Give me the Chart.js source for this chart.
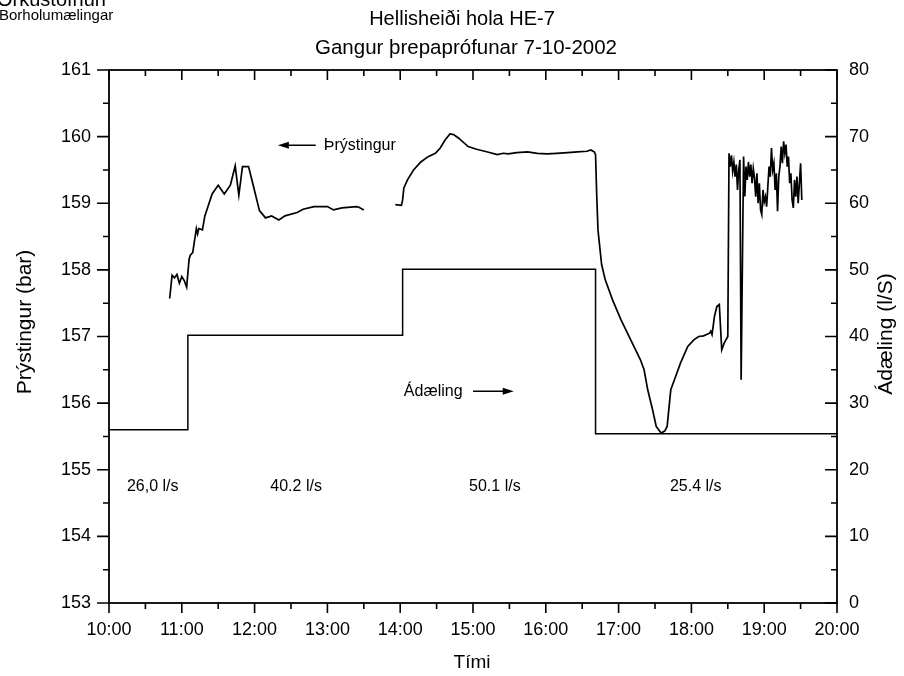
<!DOCTYPE html>
<html>
<head>
<meta charset="utf-8">
<title>Hellisheiði hola HE-7</title>
<script src="https://cdn.jsdelivr.net/npm/chart.js@4.4.1/dist/chart.umd.min.js"></script>
<style>
  html, body { margin: 0; padding: 0; background: #fff; }
  #wrap { width: 904px; height: 676px; }
</style>
</head>
<body>
<div id="wrap"><canvas id="chart" width="904" height="676"></canvas></div>
<script>
// ============================================
// DATA
// ============================================

// Pressure log (bar), clock time. null = logger gap
const pressureTimes = [
  '10:50', '10:52', '10:54', '10:56', '10:58', '11:00', '11:02', '11:04', '11:06', '11:07',
  '11:09', '11:12', '11:13', '11:14', '11:17', '11:19', '11:25', '11:30', '11:35', '11:40',
  '11:44', '11:47', '11:50', '11:55', '11:59', '12:04', '12:09', '12:14', '12:20', '12:25',
  '12:35', '12:40', '12:49', '13:00', '13:05', '13:12', '13:24', '13:26', '13:30',
  '13:45',
  '13:56', '14:01', '14:02', '14:03', '14:06', '14:11', '14:17', '14:23', '14:29', '14:33',
  '14:37', '14:41', '14:44', '14:48', '14:56', '15:03', '15:12', '15:20', '15:25', '15:29',
  '15:36', '15:45', '15:53', '16:01', '16:09', '16:18', '16:26', '16:34', '16:37', '16:40',
  '16:41', '16:42', '16:43', '16:46', '16:49', '16:55', '17:02', '17:10', '17:18', '17:21',
  '17:24', '17:28', '17:31', '17:35', '17:38', '17:40', '17:43', '17:47', '17:51', '17:57',
  '18:02', '18:06', '18:10', '18:15', '18:16', '18:17', '18:19', '18:21', '18:23', '18:25',
  '18:27', '18:30', '18:31', '18:32', '18:33', '18:34', '18:35', '18:36', '18:37', '18:38',
  '18:39', '18:40', '18:41', '18:43', '18:44', '18:45', '18:46', '18:47', '18:48', '18:49',
  '18:50', '18:51', '18:52', '18:53', '18:54', '18:55', '18:56', '18:57', '18:58', '18:59',
  '19:00', '19:01', '19:02', '19:03', '19:04', '19:05', '19:06', '19:07', '19:08', '19:09',
  '19:10', '19:11', '19:12', '19:13', '19:14', '19:15', '19:16', '19:17', '19:18', '19:19',
  '19:20', '19:21', '19:22', '19:23', '19:24', '19:25', '19:26', '19:27', '19:28', '19:29',
  '19:30', '19:31'
];
const pressureValues = [
  157.57, 157.92, 157.88, 157.93, 157.80, 157.90, 157.84, 157.74, 158.16, 158.22,
  158.26, 158.62, 158.54, 158.62, 158.60, 158.81, 159.14, 159.27, 159.14, 159.27,
  159.56, 159.12, 159.55, 159.55, 159.26, 158.89, 158.78, 158.81, 158.75, 158.81,
  158.86, 158.91, 158.95, 158.95, 158.90, 158.93, 158.95, 158.94, 158.90,
  null,
  158.98, 158.97, 159.05, 159.23, 159.35, 159.50, 159.62, 159.70, 159.75, 159.83,
  159.95, 160.04, 160.03, 159.98, 159.85, 159.81, 159.77, 159.73, 159.75, 159.74,
  159.76, 159.77, 159.75, 159.74, 159.75, 159.76, 159.77, 159.78, 159.80, 159.77,
  159.73, 159.10, 158.60, 158.08, 157.85, 157.55, 157.25, 156.95, 156.65, 156.50,
  156.20, 155.90, 155.65, 155.55, 155.58, 155.65, 156.20, 156.40, 156.60, 156.85,
  156.95, 157.00, 157.01, 157.05, 157.08, 157.03, 157.30, 157.45, 157.48, 156.80,
  156.90, 157.00, 159.75, 159.55, 159.72, 159.48, 159.62, 159.40, 159.58, 159.20,
  159.50, 159.65, 156.35, 159.70, 159.10, 159.55, 159.35, 159.62, 159.40, 159.58,
  159.30, 159.52, 159.38, 159.10, 159.45, 159.00, 159.30, 158.90, 158.83, 159.20,
  159.02, 159.10, 158.95, 159.25, 159.55, 159.40, 159.83, 159.50, 159.60, 159.20,
  159.45, 158.88, 159.40, 159.55, 159.85, 159.60, 159.93, 159.75, 159.88, 159.55,
  159.70, 159.30, 159.45, 159.05, 158.93, 159.35, 159.10, 159.40, 159.00, 159.30,
  159.60, 159.05
];

// Injection rate steps (l/s)
const flowTimes = ['10:00', '11:05', '14:02', '16:41', '20:00'];
const flowRates = [26.0, 40.2, 50.1, 25.4, 25.4];
const flowLabels = ['26,0 l/s', '40.2 l/s', '50.1 l/s', '25.4 l/s'];

// Axis ranges
const timeRange = [10, 20];
const pressureRange = [153, 161];
const rateRange = [0, 80];

// ============================================
// HELPERS
// ============================================

function toHours(t) {
  const [h, m] = t.split(':').map(Number);
  return h + m / 60;
}

const pressurePoints = pressureTimes.map((t, i) => ({ x: toHours(t), y: pressureValues[i] }));
const flowPoints = flowTimes.map((t, i) => ({ x: toHours(t), y: flowRates[i] }));

const FONT = '"Liberation Sans", Arial, Helvetica, sans-serif';

// Frame, major/minor tick marks and free text
const decorations = {
  id: 'decorations',
  afterDraw(chart) {
    const { ctx, chartArea: a, scales } = chart;
    const sx = scales.x, sy = scales.y, sr = scales.y1;
    ctx.save();

    // frame
    ctx.strokeStyle = '#000';
    ctx.lineWidth = 1.8;
    ctx.strokeRect(a.left, a.top, a.right - a.left, a.bottom - a.top);

    // ticks
    ctx.lineWidth = 1.6;
    ctx.beginPath();
    for (let h = timeRange[0]; h <= timeRange[1]; h += 0.5) {
      const px = sx.getPixelForValue(h);
      const len = Number.isInteger(h) ? 10 : 6;
      ctx.moveTo(px, a.bottom); ctx.lineTo(px, a.bottom + len);
      ctx.moveTo(px, a.top); ctx.lineTo(px, a.top + len);
    }
    for (let p = pressureRange[0]; p <= pressureRange[1]; p += 0.5) {
      const py = sy.getPixelForValue(p);
      const len = Number.isInteger(p) ? 12 : 6;
      ctx.moveTo(a.left - len, py); ctx.lineTo(a.left, py);
    }
    for (let q = rateRange[0]; q <= rateRange[1]; q += 5) {
      const py = sr.getPixelForValue(q);
      const len = q % 10 === 0 ? 12 : 6;
      ctx.moveTo(a.right - len, py); ctx.lineTo(a.right, py);
    }
    ctx.stroke();

    ctx.fillStyle = '#000';

    // header
    ctx.textAlign = 'left';
    ctx.textBaseline = 'alphabetic';
    ctx.font = '20px ' + FONT;
    ctx.fillText('Orkustofnun', -3, 6);
    ctx.font = '15px ' + FONT;
    ctx.fillText('Borholumælingar', -1, 20);

    ctx.textAlign = 'center';
    ctx.font = '20px ' + FONT;
    ctx.fillText('Hellisheiði hola HE-7', 462, 25);
    ctx.font = '20.5px ' + FONT;
    ctx.fillText('Gangur þrepaprófunar 7-10-2002', 466, 54);

    // axis titles
    ctx.font = '19px ' + FONT;
    ctx.textBaseline = 'middle';
    ctx.fillText('Tími', 472, 663);
    ctx.font = '21px ' + FONT;
    ctx.save();
    ctx.translate(25, 322);
    ctx.rotate(-Math.PI / 2);
    ctx.fillText('Prýstingur (bar)', 0, 0);
    ctx.restore();
    ctx.save();
    ctx.translate(886, 334);
    ctx.rotate(-Math.PI / 2);
    ctx.fillText('Ádæling (l/S)', 0, 0);
    ctx.restore();

    // in-plot labels
    ctx.font = '16px ' + FONT;
    ctx.textAlign = 'left';
    const pY = sy.getPixelForValue(159.87);
    arrow(ctx, sx.getPixelForValue(12.84), pY, sx.getPixelForValue(12.32), pY);
    ctx.fillText('Þrýstingur', sx.getPixelForValue(12.95), pY);

    const fY = sr.getPixelForValue(31.8);
    ctx.fillText('Ádæling', sx.getPixelForValue(14.05), fY);
    arrow(ctx, sx.getPixelForValue(15.0), fY, sx.getPixelForValue(15.56), fY);

    ctx.textAlign = 'center';
    const labelTimes = [10.6, 12.57, 15.3, 18.06];
    const lY = sr.getPixelForValue(17.4);
    flowLabels.forEach((t, i) => ctx.fillText(t, sx.getPixelForValue(labelTimes[i]), lY));

    ctx.restore();
  }
};

function arrow(ctx, x0, y0, x1, y1) {
  const dir = Math.sign(x1 - x0);
  ctx.save();
  ctx.lineWidth = 1.5;
  ctx.beginPath();
  ctx.moveTo(x0, y0);
  ctx.lineTo(x1 - dir * 6, y1);
  ctx.stroke();
  ctx.beginPath();
  ctx.moveTo(x1, y1);
  ctx.lineTo(x1 - dir * 11, y1 - 3.5);
  ctx.lineTo(x1 - dir * 11, y1 + 3.5);
  ctx.closePath();
  ctx.fill();
  ctx.restore();
}

// ============================================
// CHART
// ============================================

const tickFont = { family: FONT, size: 18 };

new Chart(document.getElementById('chart'), {
  type: 'line',
  data: {
    datasets: [
      {
        label: 'Þrýstingur',
        data: pressurePoints,
        yAxisID: 'y',
        borderColor: '#000',
        borderWidth: 1.7,
        pointRadius: 0,
        tension: 0,
        spanGaps: false
      },
      {
        label: 'Ádæling',
        data: flowPoints,
        yAxisID: 'y1',
        borderColor: '#000',
        borderWidth: 1.5,
        pointRadius: 0,
        stepped: 'before'
      }
    ]
  },
  options: {
    responsive: false,
    animation: false,
    layout: { padding: { top: 70, left: 0, right: 0, bottom: 0 } },
    plugins: {
      legend: { display: false },
      tooltip: { enabled: false }
    },
    scales: {
      x: {
        type: 'linear',
        min: timeRange[0],
        max: timeRange[1],
        grid: { display: false, drawTicks: true, tickLength: 10 },
        border: { display: false },
        ticks: {
          stepSize: 1,
          padding: 6,
          color: '#000',
          font: tickFont,
          maxRotation: 0,
          callback: v => v + ':00'
        },
        afterFit: s => { s.height = 73; }
      },
      y: {
        position: 'left',
        min: pressureRange[0],
        max: pressureRange[1],
        grid: { display: false, drawTicks: true, tickLength: 12 },
        border: { display: false },
        ticks: { stepSize: 1, padding: 6, color: '#000', font: tickFont },
        afterFit: s => { s.width = 109; }
      },
      y1: {
        position: 'right',
        min: rateRange[0],
        max: rateRange[1],
        grid: { display: false, drawTicks: false },
        border: { display: false },
        ticks: { stepSize: 10, padding: 12, color: '#000', font: tickFont },
        afterFit: s => { s.width = 67; }
      }
    }
  },
  plugins: [decorations]
});
</script>
</body>
</html>
